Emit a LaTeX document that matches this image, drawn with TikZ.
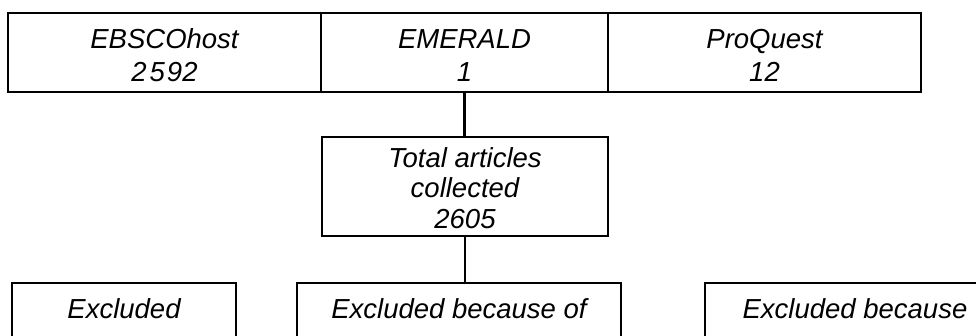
\documentclass[tikz,border=0pt]{standalone}
\usepackage{fontspec}
\setmainfont{Liberation Sans}
\usetikzlibrary{positioning}

\begin{document}
\begin{tikzpicture} [x=1pt, y=-1pt,
		every node/.style = {shape=rectangle, draw, line width=2.2pt, outer sep=0pt, inner sep=0pt, align=center, font=\itshape\fontsize{27.5}{33}\selectfont},
		srcbox/.style = {minimum width=#1, text height=68pt, text depth=11pt},
		exclbox/.style = {anchor=north, minimum width=#1, text height=35pt, text depth=100pt}]
			\useasboundingbox (0,0) rectangle (976,335);
			\clip (0,0) rectangle (976,335);
			% databases
			\node (ebsco)[srcbox=313pt, anchor=north west] at (8,13) {EBSCOhost\\2\kern3pt5\kern2pt92};
			\node (emerald)[srcbox=287pt, right=0pt of ebsco] {EMERALD\\1};
			\node (proquest)[srcbox=313pt, right=0pt of emerald] {ProQuest\\12};
			% total
			\node (total)[minimum width=286pt, text height=91pt, text depth=8pt, anchor=north, font=\itshape\fontsize{27.5}{30.5}\selectfont] at (465,137) {Total articles\\collected\\2605};
			% exclusions
			\node (excla)[exclbox=224pt] at (124,283) {Excluded};
			\node (exclb)[exclbox=324pt] at (459,283) {Excluded because of};
			\node (exclc)[exclbox=300pt] at (855,283) {Excluded because};
			\path [draw, line width=2.2pt]
				(emerald.south) -- (emerald.south |- total.north)
				(total.south) -- (total.south |- exclb.north);
		\end{tikzpicture}
\end{document}
